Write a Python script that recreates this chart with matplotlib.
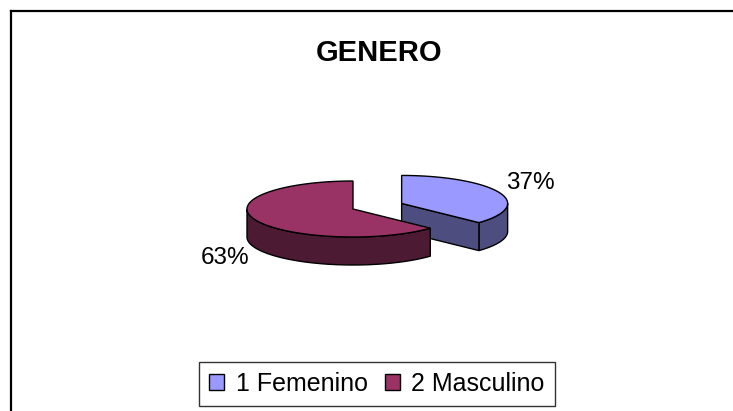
import numpy as np
import matplotlib
matplotlib.use("Agg")
import matplotlib.pyplot as plt
from matplotlib.patches import Polygon, Patch
from matplotlib.lines import Line2D

plt.rcParams['font.family'] = ['Liberation Sans', 'DejaVu Sans']

# data
labels = ['1 Femenino', '2 Masculino']
values = [37, 63]
top_colors = ['#9999ff', '#993366']
side_colors = ['#4d4d80', '#4d1a33']
title = 'GENERO'

W, H = 733, 411
fig = plt.figure(figsize=(W / 100, H / 100), dpi=100)
ax = fig.add_axes([0, 0, 1, 1])
ax.set_xlim(0, W)
ax.set_ylim(H, 0)
ax.axis('off')

# pie geometry (pixels)
cx, cy = 353, 209
rx, ry, depth = 106, 28, 28
explode = [53, 0]


def pt(x0, y0, t, dy=0):
    return (x0 + rx * np.cos(t), y0 - ry * np.sin(t) + dy)


def draw_slice(x0, y0, a0, a1, top, side):
    # outer wall, front half only
    lo, hi = max(a0, np.pi), min(a1, 2 * np.pi)
    segs = []
    if a0 < 0:
        segs.append((a0, min(a1, 0)))
    if lo < hi:
        segs.append((lo, hi))
    for s0, s1 in segs:
        ts = np.linspace(s0, s1, 80)
        upper = [pt(x0, y0, t) for t in ts]
        lower = [pt(x0, y0, t, depth) for t in ts[::-1]]
        ax.add_patch(Polygon(upper + lower, closed=True, fc=side, ec='black', lw=1.0, zorder=2))
    # radial faces that face the viewer
    for a, sgn in ((a0, -1), (a1, 1)):
        if np.sin(a + sgn * np.pi / 2) < -1e-6:
            p = pt(x0, y0, a)
            face = [(x0, y0), p, (p[0], p[1] + depth), (x0, y0 + depth)]
            ax.add_patch(Polygon(face, closed=True, fc=side, ec='black', lw=1.0, zorder=2))
    # top face
    ts = np.linspace(a0, a1, 160)
    poly = [(x0, y0)] + [pt(x0, y0, t) for t in ts]
    ax.add_patch(Polygon(poly, closed=True, fc=top, ec='black', lw=1.0, zorder=3))


# slice angles, clockwise from 12 o'clock
total = sum(values)
f_end = np.pi / 2
f_start = f_end - 2 * np.pi * values[0] / total
spans = [(f_start, f_end), (f_end, f_start + 2 * np.pi)]

for i, (lo, hi) in enumerate(spans):
    m = (lo + hi) / 2
    x0 = cx + explode[i] * np.cos(m)
    y0 = cy - explode[i] * np.sin(m) * ry / rx
    draw_slice(x0, y0, lo, hi, top_colors[i], side_colors[i])
    lx = x0 + rx * np.cos(m) * 1.07
    if np.sin(m) >= 0:
        ly = y0 - ry * np.sin(m) * 1.1 - 8
    else:
        ly = y0 - ry * np.sin(m) * 1.1 + depth + 9
    ha = 'left' if np.cos(m) > 0 else 'right'
    pct = f"{round(100 * values[i] / total)}%"
    ax.text(lx, ly, pct, ha=ha, va='center', fontsize=17.5, zorder=5)

ax.text(379, 53, title, ha='center', va='center', fontsize=21, fontweight='bold')

# chart frame (only left and top edges are in view)
ax.add_line(Line2D([11, 11], [H + 5, 11], color='black', lw=1.6, solid_capstyle='projecting'))
ax.add_line(Line2D([11, W + 5], [11, 11], color='black', lw=1.6, solid_capstyle='projecting'))

handles = [Patch(fc=c, ec='black', lw=1.0) for c in top_colors]
leg = fig.legend(handles, labels, loc='center', bbox_to_anchor=(377 / W, 1 - 384 / H),
                 ncol=2, fontsize=18, frameon=True, fancybox=False, edgecolor='black',
                 handlelength=0.6, handleheight=0.6, handletextpad=0.45,
                 columnspacing=0.7, borderpad=0.4, borderaxespad=0)
leg.get_frame().set_linewidth(1.0)

fig.savefig('out.png', dpi=100, facecolor='white')
